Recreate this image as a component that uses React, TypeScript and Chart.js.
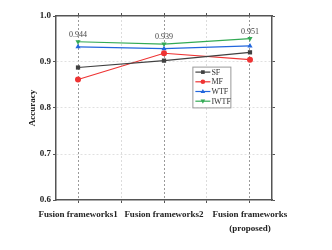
import React, { useEffect, useRef } from "react";
import { Chart, registerables } from "chart.js";

Chart.register(...registerables);

const categories: (string | string[])[] = [
  "Fusion frameworks1",
  "Fusion frameworks2",
  ["Fusion frameworks", "(proposed)"],
];
const xPositions = [1, 2, 3];
const xTickValues = [1, 1.5, 2, 2.5, 3];
const yTickValues = [0.6, 0.7, 0.8, 0.9, 1.0];

const seriesNames = ["SF", "MF", "WTF", "IWTF"];
const sfValues = [0.888, 0.903, 0.921];
const mfValues = [0.862, 0.919, 0.905];
const wtfValues = [0.933, 0.929, 0.935];
const iwtfValues = [0.944, 0.939, 0.951];

const seriesColors = ["#404040", "#ee3333", "#2266dd", "#33aa55"];
const seriesPointStyles = ["rect", "circle", "triangle", "triangle"];
const seriesRotations = [0, 0, 0, 180];

const SERIF = "'Liberation Serif', 'DejaVu Serif', serif";

const drawMarker = (ctx: CanvasRenderingContext2D, style: string, rot: number, x: number, y: number, r: number, color: string) => {
  ctx.save();
  ctx.fillStyle = color;
  ctx.strokeStyle = color;
  ctx.translate(x, y);
  ctx.rotate((rot * Math.PI) / 180);
  ctx.beginPath();
  if (style === "rect") {
    ctx.rect(-r * 0.8, -r * 0.8, r * 1.6, r * 1.6);
  } else if (style === "circle") {
    ctx.arc(0, 0, r, 0, Math.PI * 2);
  } else {
    ctx.moveTo(0, -r * 1.1);
    ctx.lineTo(r, r * 0.7);
    ctx.lineTo(-r, r * 0.7);
    ctx.closePath();
  }
  ctx.fill();
  ctx.restore();
};

const overlayPlugin = {
  id: "overlay",
  afterDatasetsDraw(chart: any) {
    const ctx = chart.ctx as CanvasRenderingContext2D;
    const meta = chart.getDatasetMeta(3);
    ctx.save();
    ctx.font = `8px ${SERIF}`;
    ctx.fillStyle = "#444";
    ctx.textAlign = "center";
    ctx.textBaseline = "bottom";
    meta.data.forEach((pt: any, i: number) => {
      ctx.fillText(iwtfValues[i].toFixed(3), pt.x, pt.y - 3);
    });
    ctx.restore();

    const xs = chart.scales.x;
    const ys = chart.scales.y;
    const bx = xs.getPixelForValue(2.33);
    const by = ys.getPixelForValue(0.89);
    const bw = 38;
    const rowH = 9.7;
    const bh = rowH * 4 + 2;
    ctx.save();
    ctx.fillStyle = "#ffffff";
    ctx.fillRect(bx, by, bw, bh);
    ctx.strokeStyle = "#999";
    ctx.lineWidth = 1;
    ctx.strokeRect(bx + 0.5, by + 0.5, bw, bh);
    ctx.font = `8px ${SERIF}`;
    ctx.textBaseline = "middle";
    ctx.textAlign = "left";
    seriesNames.forEach((name, i) => {
      const yy = by + 5.5 + i * rowH;
      ctx.strokeStyle = seriesColors[i];
      ctx.lineWidth = 1.2;
      ctx.beginPath();
      ctx.moveTo(bx + 3, yy);
      ctx.lineTo(bx + 18, yy);
      ctx.stroke();
      drawMarker(ctx, seriesPointStyles[i], seriesRotations[i], bx + 10.5, yy, 2.3, seriesColors[i]);
      ctx.fillStyle = "#333";
      ctx.fillText(name, bx + 19, yy + 0.5);
    });
    ctx.restore();
  },
};

const allValues = [sfValues, mfValues, wtfValues, iwtfValues];

export default function App() {
  const canvasRef = useRef<HTMLCanvasElement | null>(null);

  useEffect(() => {
    if (!canvasRef.current) return;
    const datasets = allValues.map((vals, i) => ({
      label: seriesNames[i],
      data: vals.map((v, j) => ({ x: xPositions[j], y: v })),
      borderColor: seriesColors[i],
      backgroundColor: seriesColors[i],
      borderWidth: 1.2,
      pointStyle: seriesPointStyles[i] as any,
      rotation: seriesRotations[i],
      pointRadius: 3,
      pointBorderWidth: 0,
      showLine: true,
      tension: 0,
    }));

    const tickFont = { family: SERIF, size: 9, weight: "bold" as const };
    const axisColor = "#555";

    const chart = new Chart(canvasRef.current, {
      type: "line",
      data: { datasets },
      plugins: [overlayPlugin],
      options: {
        responsive: false,
        animation: false,
        devicePixelRatio: 1,
        layout: { padding: { left: 22, right: 0, top: 0, bottom: 0 } },
        plugins: {
          legend: { display: false },
          tooltip: { enabled: false },
        },
        scales: {
          x: {
            type: "linear",
            position: "bottom",
            min: 0.744,
            max: 3.256,
            afterBuildTicks: (s: any) => {
              s.ticks = xTickValues.map((v) => ({ value: v }));
            },
            afterFit: (s: any) => {
              s.height = 50;
            },
            ticks: {
              autoSkip: false,
              maxRotation: 0,
              padding: 5,
              color: "#222",
              font: { ...tickFont, lineHeight: 1.5 },
              callback: (v: any) => {
                const idx = xPositions.indexOf(Number(v));
                return idx >= 0 ? (categories[idx] as any) : "";
              },
            },
            grid: {
              drawOnChartArea: true,
              drawTicks: true,
              tickLength: 3,
              tickColor: axisColor,
              lineWidth: 1,
              color: (ctx: any) =>
                Number.isInteger(ctx.tick?.value) ? "#9a9a9a" : "#dcdcdc",
            },
            border: { display: true, color: axisColor, width: 1.5, dash: [2, 2] },
          },
          x2: {
            type: "linear",
            position: "top",
            min: 0.744,
            max: 3.256,
            afterBuildTicks: (s: any) => {
              s.ticks = xTickValues.map((v) => ({ value: v }));
            },
            afterFit: (s: any) => {
              s.height = 16;
            },
            ticks: { display: false },
            grid: {
              drawOnChartArea: false,
              drawTicks: true,
              tickLength: 3,
              tickColor: axisColor,
            },
            border: { display: true, color: axisColor, width: 1.5 },
          },
          y: {
            type: "linear",
            position: "left",
            min: 0.6,
            max: 1.0,
            afterBuildTicks: (s: any) => {
              s.ticks = yTickValues.map((v) => ({ value: v }));
            },
            afterFit: (s: any) => {
              s.width = 34;
            },
            title: {
              display: true,
              text: "Accuracy",
              color: "#222",
              font: { family: SERIF, size: 9, weight: "bold" },
              padding: { top: 5, bottom: 0 },
            },
            ticks: {
              padding: 2,
              color: "#222",
              font: tickFont,
              callback: (v: any) => Number(v).toFixed(1),
            },
            grid: {
              drawTicks: true,
              tickLength: 3,
              tickColor: axisColor,
              lineWidth: 1,
              color: (ctx: any) => {
                const v = ctx.tick?.value;
                return v === 0.6 || v === 1.0 ? "rgba(0,0,0,0)" : "#e0e0e0";
              },
            },
            border: { display: true, color: axisColor, width: 1.5, dash: [2, 2] },
          },
          y2: {
            type: "linear",
            position: "right",
            min: 0.6,
            max: 1.0,
            afterBuildTicks: (s: any) => {
              s.ticks = yTickValues.map((v) => ({ value: v }));
            },
            afterFit: (s: any) => {
              s.width = 60;
            },
            ticks: { display: false },
            grid: {
              drawOnChartArea: false,
              drawTicks: true,
              tickLength: 3,
              tickColor: axisColor,
            },
            border: { display: true, color: axisColor, width: 1.5 },
          },
        },
      } as any,
    });
    return () => chart.destroy();
  }, []);

  return (
    <div style={{ position: "fixed", left: 0, top: 0, width: 332, height: 250, background: "#fff" }}>
      <canvas ref={canvasRef} width={332} height={250} style={{ display: "block" }} />
    </div>
  );
}
